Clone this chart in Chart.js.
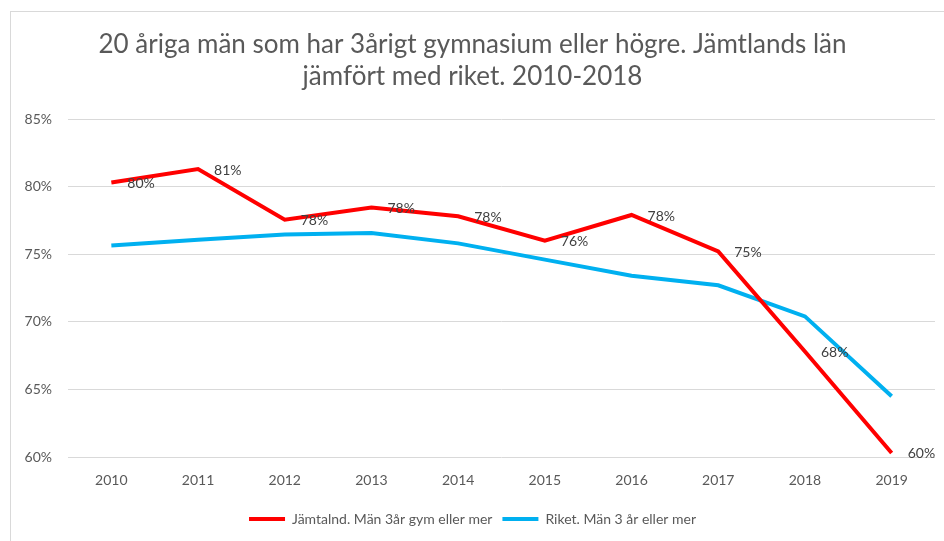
<!DOCTYPE html>
<html>
<head>
<meta charset="utf-8">
<script src="https://cdn.jsdelivr.net/npm/chart.js@4"></script>
<style>
  html, body { margin: 0; padding: 0; background: #fff; }
  #wrap { position: relative; width: 944px; height: 541px; overflow: hidden; }
  #frame { position: absolute; left: 10px; top: 11px; width: 1000px; height: 600px;
           border-left: 1px solid #d9d9d9; border-top: 1px solid #d9d9d9; }
  canvas { position: absolute; left: 0; top: 0; }
</style>
</head>
<body>
<div id="wrap">
  <div id="frame"></div>
  <canvas id="lineChart" width="944" height="541"></canvas>
</div>
<script>
// Years on the x axis
const years = ['2010', '2011', '2012', '2013', '2014', '2015', '2016', '2017', '2018', '2019'];

// Share (%) of 20 year old men with 3-year upper secondary school
const jamtland = [80.3, 81.3, 77.55, 78.45, 77.8, 76.0, 77.9, 75.2, 67.8, 60.3];
const riket = [75.65, 76.07, 76.45, 76.57, 75.8, 74.6, 73.4, 72.7, 70.4, 64.5];

const yTicks = [60, 65, 70, 75, 80, 85];

const titleLines = [
    '20 åriga män som har 3årigt gymnasium eller högre. Jämtlands län',
    'jämfört med riket. 2010-2018'
];

const textColor = '#595959';
const fontFamily = 'Lato, "Open Sans", sans-serif';

// Small plugin that writes value labels to the right of the red line's points
const valueLabels = {
    id: 'valueLabels',
    afterDatasetsDraw(chart) {
        const ctx = chart.ctx;
        const meta = chart.getDatasetMeta(0);
        const data = chart.data.datasets[0].data;
        ctx.save();
        ctx.font = '14px ' + fontFamily;
        ctx.fillStyle = '#404040';
        ctx.textAlign = 'left';
        ctx.textBaseline = 'middle';
        meta.data.forEach(function (pt, i) {
            ctx.fillText(Math.round(data[i]) + '%', pt.x + 16, pt.y + 1);
        });
        ctx.restore();
    }
};

const ctx = document.getElementById('lineChart').getContext('2d');
const myChart = new Chart(ctx, {
    type: 'line',
    data: {
        labels: years,
        datasets: [{
            label: 'Jämtalnd. Män 3år gym eller mer',
            data: jamtland,
            borderColor: '#ff0000',
            backgroundColor: '#ff0000',
            borderWidth: 4,
            pointRadius: 0,
            tension: 0
        }, {
            label: 'Riket. Män 3 år eller mer',
            data: riket,
            borderColor: '#00b0f0',
            backgroundColor: '#00b0f0',
            borderWidth: 4,
            pointRadius: 0,
            tension: 0
        }]
    },
    options: {
        responsive: false,
        animation: false,
        layout: {
            padding: { left: 10, right: 9, top: 0, bottom: 5 }
        },
        scales: {
            y: {
                min: 60,
                max: 85,
                afterBuildTicks: function (scale) {
                    scale.ticks = yTicks.map(v => ({ value: v }));
                },
                afterFit: function (scale) { scale.width = 58; },
                border: { display: false },
                grid: { color: '#d9d9d9', lineWidth: 1, drawTicks: false },
                ticks: {
                    padding: 16,
                    color: textColor,
                    font: { family: fontFamily, size: 14 },
                    callback: v => v + '%'
                }
            },
            x: {
                offset: true,
                afterFit: function (scale) { scale.height = 45; },
                border: { display: false },
                grid: { display: false },
                ticks: {
                    padding: 7,
                    color: textColor,
                    font: { family: fontFamily, size: 14 }
                }
            }
        },
        plugins: {
            title: {
                display: true,
                text: titleLines,
                color: textColor,
                font: { family: fontFamily, size: 26, weight: 'normal', lineHeight: 1.25 },
                padding: { top: 28, bottom: 26 }
            },
            legend: {
                position: 'bottom',
                labels: {
                    usePointStyle: true,
                    pointStyle: 'line',
                    pointStyleWidth: 36,
                    boxHeight: 14,
                    padding: 10,
                    color: textColor,
                    font: { family: fontFamily, size: 14 }
                }
            },
            tooltip: { enabled: false }
        }
    },
    plugins: [valueLabels]
});
</script>
</body>
</html>
